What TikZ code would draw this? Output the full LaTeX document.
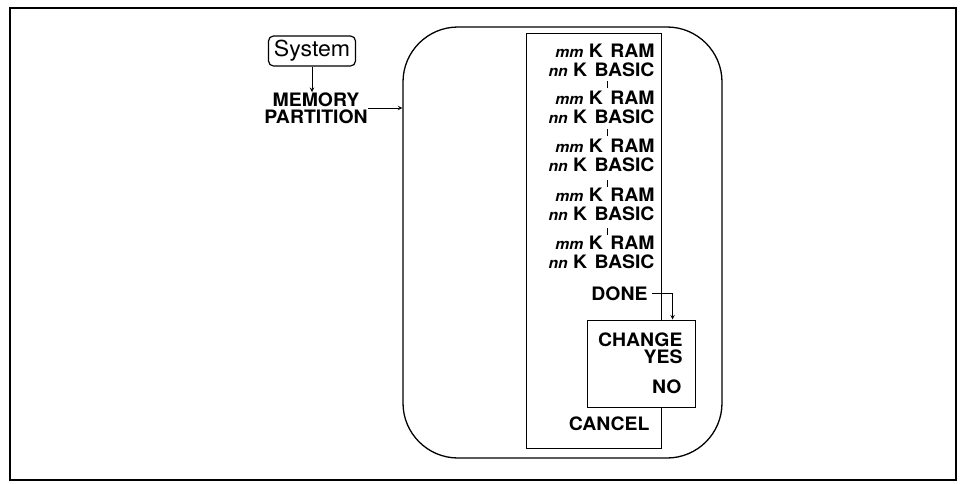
\documentclass[tikz,border=0pt]{standalone}
\usepackage{fontspec}
\setmainfont{TeX Gyre Heros}[FakeStretch=1.05]
\begin{document}
\begin{tikzpicture}[x=1pt, y=-1pt, >=stealth, line width=1pt,
  lbl/.style={anchor=base east, inner sep=0pt, font=\fontsize{18.5}{17}\selectfont\bfseries}]
\useasboundingbox (0,0) rectangle (960,483);
% 外框
\draw[line width=1.8pt] (10,8) rectangle (956,480);

% 菜单入口
\node[draw, rounded corners=5pt, line width=1.2pt, minimum width=87pt, minimum height=30pt, inner sep=0pt,
      font=\fontsize{22}{22}\selectfont] (sys) at (312,51) {System};
\node[align=center, inner sep=0pt, font=\fontsize{18.5}{17}\selectfont\bfseries] (mem) at (316,108) {MEMORY\\PARTITION};

% 圆角框与列表框
\node[draw, rounded corners=55pt, line width=1.3pt, minimum width=319pt, minimum height=431pt, inner sep=0pt] (menu) at (562.5,242.5) {};
\draw (526,33) rectangle (661,448);

\draw[->] (sys.south) -- (sys.south |- mem.north);
\draw[->] (mem.east) -- (mem.east -| menu.west);

% 分区选项
\foreach \i/\y in {1/57, 2/104, 3/152, 4/201, 5/249} {
  \node[lbl] (ram\i) at (655,\y) {{\fontsize{15}{15}\selectfont\itshape mm} K\hspace{0.4em}RAM};
  \node[lbl] (bas\i) at (655,\y+19) {{\fontsize{15}{15}\selectfont\itshape nn} K\hspace{0.4em}BASIC};
}
\foreach \y in {81, 129, 180, 228}
  \draw[line width=0.6pt] (607,\y) -- (607,\y+7);

\node[lbl] (done) at (648,300) {DONE};
\node[lbl] (cancel) at (650,430) {CANCEL};

% 确认框
\node[draw, fill=white, minimum width=108pt, minimum height=87pt, inner sep=0pt] (chg) at (641,363.5) {};
\node[lbl] (change) at (683,346) {CHANGE};
\node[lbl] (yes) at (683,363) {YES};
\node[lbl] (no) at (682,393) {NO};

\draw[->] ([xshift=4pt]done.east) -| ([xshift=-23pt]chg.north east);
\end{tikzpicture}
\end{document}
